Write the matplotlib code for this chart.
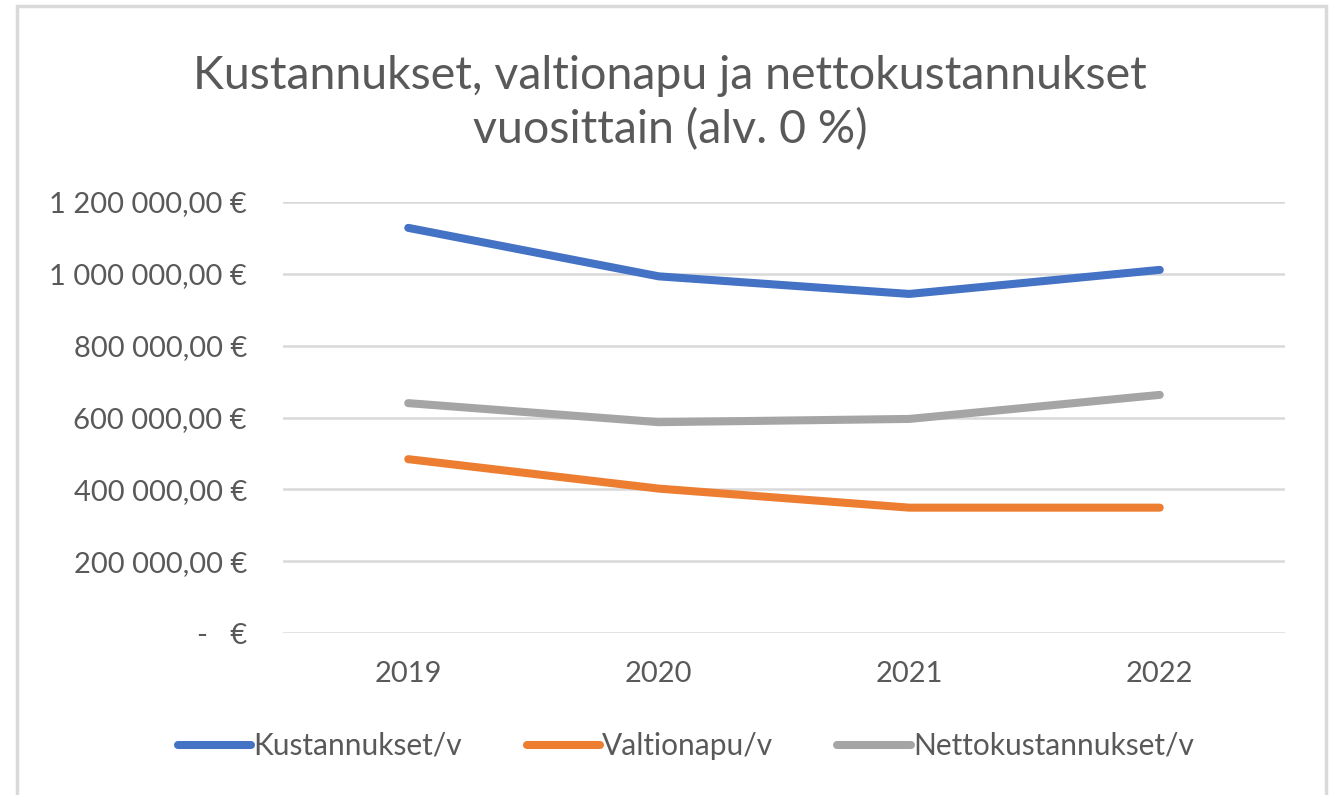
import numpy as np
import matplotlib
matplotlib.use("Agg")
import matplotlib.pyplot as plt
from matplotlib.patches import Rectangle

# ─── data ────────────────────────────────────────────────────────────────────
years = ["2019", "2020", "2021", "2022"]
kustannukset = [1128000, 993000, 944000, 1011000]
valtionapu   = [484000, 402000, 349000, 349000]
netto        = [640000, 587000, 596000, 663000]

ytick_vals   = [0, 200000, 400000, 600000, 800000, 1000000, 1200000]
ytick_labels = ["-   €", "200 000,00 €", "400 000,00 €", "600 000,00 €",
                "800 000,00 €", "1 000 000,00 €", "1 200 000,00 €"]

series_names = ["Kustannukset/v", "Valtionapu/v", "Nettokustannukset/v"]
title = "Kustannukset, valtionapu ja nettokustannukset\nvuosittain (alv. 0 %)"

TXT = "#595959"
plt.rcParams["font.family"] = ["Lato", "DejaVu Sans"]

# ─── figure ──────────────────────────────────────────────────────────────────
W, H = 1332, 795
fig = plt.figure(figsize=(W / 100, H / 100), dpi=100)
ax = fig.add_axes([283 / W, 1 - 633 / H, (1285 - 283) / W, (633 - 202) / H])

# chart border
fig.patches.append(Rectangle((17 / W, -0.01), (1326 - 17) / W, 1 - 6 / H + 0.01,
                             transform=fig.transFigure, fill=False,
                             edgecolor="#D9D9D9", lw=2.5))

x = np.arange(len(years))
for vals, col, name in zip([kustannukset, valtionapu, netto],
                           ["#4472C4", "#ED7D31", "#A5A5A5"], series_names):
    ax.plot(x, vals, color=col, lw=5.8, solid_capstyle="round",
            solid_joinstyle="round", label=name)

ax.set_xlim(-0.5, len(years) - 0.5)
ax.set_ylim(0, 1200000)
ax.set_xticks(x)
ax.set_xticklabels(years)
ax.set_yticks(ytick_vals)
ax.set_yticklabels(ytick_labels)
ax.tick_params(length=0, labelsize=21, labelcolor=TXT)
ax.tick_params(axis="y", pad=26)
ax.tick_params(axis="x", pad=20)
ax.grid(axis="y", color="#D9D9D9", lw=1.8)
ax.set_axisbelow(True)
for s in ax.spines.values():
    s.set_visible(False)

fig.text(0.503, 1 - 103 / H, title, ha="center", va="center",
         fontsize=33.5, color=TXT, linespacing=1.3)

fig.legend(loc="center", bbox_to_anchor=(0.515, 1 - 746 / H), ncol=3,
           frameon=False, fontsize=21.5, labelcolor=TXT, handlelength=2.45,
           handletextpad=0.08, columnspacing=2.15)

fig.savefig("out.png", dpi=100)
